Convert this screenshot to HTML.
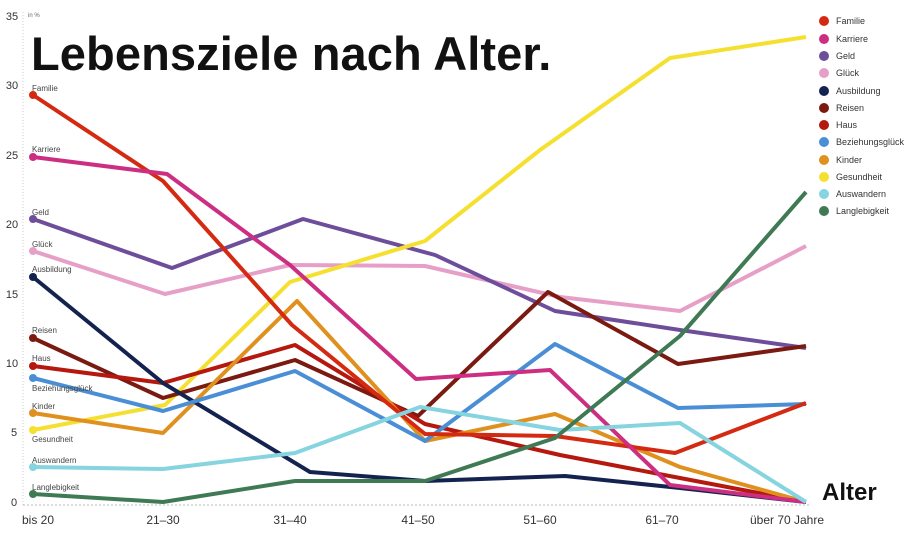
<!DOCTYPE html>
<html><head><meta charset="utf-8"><style>
body{margin:0;background:#fff;}
svg{display:block;font-family:"Liberation Sans",sans-serif;}
</style></head><body>
<svg width="915" height="533" viewBox="0 0 915 533">
<line x1="23" y1="12" x2="23" y2="505" stroke="#ccc" stroke-dasharray="1,2"/>
<line x1="23" y1="505" x2="810" y2="505" stroke="#bbb" stroke-dasharray="2,2"/>
<g font-size="11" fill="#333" text-anchor="middle">
<text x="12" y="20">35</text><text x="12" y="89">30</text><text x="12" y="159">25</text>
<text x="12" y="228">20</text><text x="12" y="298">15</text><text x="12" y="367">10</text>
<text x="14" y="436">5</text><text x="14" y="506">0</text>
</g>
<text x="28" y="17" font-size="6" fill="#666">in %</text>
<text x="31" y="70" font-size="47" font-weight="bold" fill="#111" letter-spacing="0.1">Lebensziele nach Alter.</text>
<g font-size="12" fill="#333" text-anchor="middle">
<text x="38" y="524">bis 20</text><text x="163" y="524">21–30</text><text x="290" y="524">31–40</text>
<text x="418" y="524">41–50</text><text x="540" y="524">51–60</text><text x="662" y="524">61–70</text>
<text x="787" y="524">über 70 Jahre</text>
</g>
<text x="822" y="500" font-size="24" font-weight="bold" fill="#111">Alter</text>
<g fill="none" stroke-width="4" stroke-linejoin="round">
<polyline stroke="#e6a0c8" points="33,251 165,294 290,265 425,266 560,297 680,311 806,246"/>
<polyline stroke="#6e4e9a" points="33,219 172,268 303,219 435,255 555,311 680,330 806,348"/>
<polyline stroke="#f5e030" points="33,430 165,405 290,282 425,241 540,150 670,58 806,37"/>
<polyline stroke="#7a1a10" points="33,338 163,398 295,360 418,416 548,292 678,364 806,346"/>
<polyline stroke="#b4180f" points="33,366 163,383 295,345 425,424 560,455 680,478 806,502"/>
<polyline stroke="#e0901e" points="33,413 163,433 297,301 425,441 555,414 680,467 806,502"/>
<polyline stroke="#14224f" points="33,277 163,383 310,472 425,481 565,476 680,488 806,502"/>
<polyline stroke="#4a8fd6" points="33,378 163,411 295,371 425,441 555,344 678,408 806,404"/>
<polyline stroke="#d42a12" points="33,95 163,181 292,325 425,434 555,436 675,453 806,403"/>
<polyline stroke="#cc2f82" points="33,157 167,174 290,265 416,379 550,370 670,485 806,502"/>
<polyline stroke="#85d4df" points="33,467 163,469 295,453 420,407 560,430 680,423 806,502"/>
<polyline stroke="#3f7a55" points="33,494 163,502 295,481 425,481 555,438 680,336 806,192"/>
</g>
<g>
<circle cx="33" cy="95" r="4" fill="#d42a12"/><circle cx="33" cy="157" r="4" fill="#cc2f82"/>
<circle cx="33" cy="219" r="4" fill="#6e4e9a"/><circle cx="33" cy="251" r="4" fill="#e6a0c8"/>
<circle cx="33" cy="277" r="4" fill="#14224f"/><circle cx="33" cy="338" r="4" fill="#7a1a10"/>
<circle cx="33" cy="366" r="4" fill="#b4180f"/><circle cx="33" cy="378" r="4" fill="#4a8fd6"/>
<circle cx="33" cy="413" r="4" fill="#e0901e"/><circle cx="33" cy="430" r="4" fill="#f5e030"/>
<circle cx="33" cy="467" r="4" fill="#85d4df"/><circle cx="33" cy="494" r="4" fill="#3f7a55"/>
</g>
<g font-size="8" fill="#444">
<text x="32" y="91">Familie</text><text x="32" y="152">Karriere</text><text x="32" y="215">Geld</text>
<text x="32" y="247">Glück</text><text x="32" y="272">Ausbildung</text><text x="32" y="333">Reisen</text>
<text x="32" y="361">Haus</text><text x="32" y="391">Beziehungsglück</text><text x="32" y="409">Kinder</text>
<text x="32" y="442">Gesundheit</text><text x="32" y="463">Auswandern</text><text x="32" y="490">Langlebigkeit</text>
</g>
<g font-size="9" fill="#333">
<circle cx="824" cy="21" r="5" fill="#d42a12"/><text x="836" y="24">Familie</text>
<circle cx="824" cy="39" r="5" fill="#cc2f82"/><text x="836" y="42">Karriere</text>
<circle cx="824" cy="56" r="5" fill="#6e4e9a"/><text x="836" y="59">Geld</text>
<circle cx="824" cy="73" r="5" fill="#e6a0c8"/><text x="836" y="76">Glück</text>
<circle cx="824" cy="91" r="5" fill="#14224f"/><text x="836" y="94">Ausbildung</text>
<circle cx="824" cy="108" r="5" fill="#7a1a10"/><text x="836" y="111">Reisen</text>
<circle cx="824" cy="125" r="5" fill="#b4180f"/><text x="836" y="128">Haus</text>
<circle cx="824" cy="142" r="5" fill="#4a8fd6"/><text x="836" y="145">Beziehungsglück</text>
<circle cx="824" cy="160" r="5" fill="#e0901e"/><text x="836" y="163">Kinder</text>
<circle cx="824" cy="177" r="5" fill="#f5e030"/><text x="836" y="180">Gesundheit</text>
<circle cx="824" cy="194" r="5" fill="#85d4df"/><text x="836" y="197">Auswandern</text>
<circle cx="824" cy="211" r="5" fill="#3f7a55"/><text x="836" y="214">Langlebigkeit</text>
</g>
</svg>
</body></html>
